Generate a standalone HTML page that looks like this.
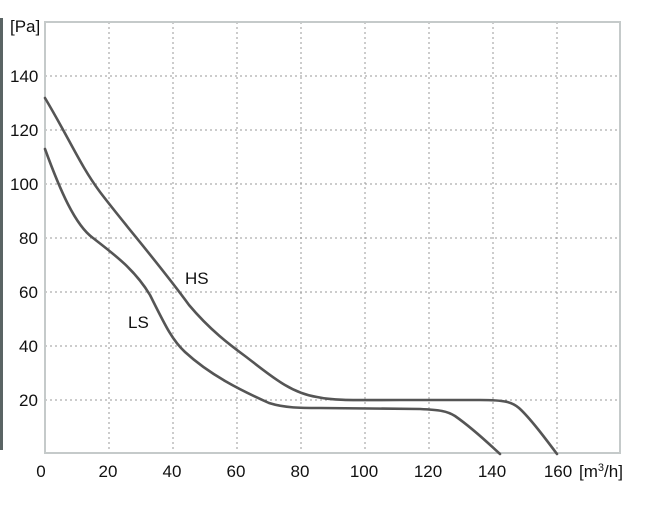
<!DOCTYPE html>
<html><head><style>
body{margin:0;background:#fff;width:647px;height:513px;overflow:hidden}
text{font-family:"Liberation Sans",sans-serif;fill:#111}
</style></head><body>
<svg width="647" height="513" xmlns="http://www.w3.org/2000/svg">
<rect x="0" y="18" width="3" height="432" fill="#5a6464"/>
<g stroke="#999" stroke-dasharray="2,3" stroke-width="1">
<line x1="109" y1="22" x2="109" y2="453"/><line x1="173" y1="22" x2="173" y2="453"/>
<line x1="237" y1="22" x2="237" y2="453"/><line x1="301" y1="22" x2="301" y2="453"/>
<line x1="365" y1="22" x2="365" y2="453"/><line x1="429" y1="22" x2="429" y2="453"/>
<line x1="493" y1="22" x2="493" y2="453"/><line x1="557" y1="22" x2="557" y2="453"/>
<line x1="45" y1="76" x2="620" y2="76"/><line x1="45" y1="130" x2="620" y2="130"/>
<line x1="45" y1="184" x2="620" y2="184"/><line x1="45" y1="238" x2="620" y2="238"/>
<line x1="45" y1="292" x2="620" y2="292"/><line x1="45" y1="346" x2="620" y2="346"/>
<line x1="45" y1="400" x2="620" y2="400"/>
</g>
<rect x="45" y="22" width="575" height="431" fill="none" stroke="#c5caca" stroke-width="2"/>
<g fill="none" stroke="#555" stroke-width="2.6" stroke-linejoin="round" stroke-linecap="round">
<path d="M45,98 C70,140 80,165 100,192 C125,225 160,265 189,305 C210,330 230,345 245,356 C270,375 290,393 317,397 C335,401 360,400 400,400 L480,400 C505,400 512,402 519,408 C530,418 545,438 557,454"/>
<path d="M45,149 C60,190 75,225 93,238 C115,255 135,270 150,295 C165,325 172,340 185,352 C210,375 240,390 269,403 C285,408 300,408 320,408 L420,409 C440,410 447,411 455,416 C475,430 490,445 500,454"/>
</g>
<g font-size="17">
<text x="10" y="32">[Pa]</text>
<text x="10" y="82">140</text><text x="10" y="136">120</text><text x="10" y="190">100</text>
<text x="19" y="244">80</text><text x="19" y="298">60</text><text x="19" y="352">40</text><text x="19" y="406">20</text>
<text x="41" y="477" text-anchor="middle">0</text>
<text x="108" y="477" text-anchor="middle">20</text><text x="172" y="477" text-anchor="middle">40</text>
<text x="236" y="477" text-anchor="middle">60</text><text x="300" y="477" text-anchor="middle">80</text>
<text x="364" y="477" text-anchor="middle">100</text><text x="428" y="477" text-anchor="middle">120</text>
<text x="492" y="477" text-anchor="middle">140</text><text x="558" y="477" text-anchor="middle">160</text>
<text x="579" y="477">[m<tspan font-size="11" dy="-6">3</tspan><tspan dy="6">/h]</tspan></text>
<text x="185" y="284" fill="#444">HS</text>
<text x="128" y="328" fill="#444">LS</text>
</g>
</svg>
</body></html>
